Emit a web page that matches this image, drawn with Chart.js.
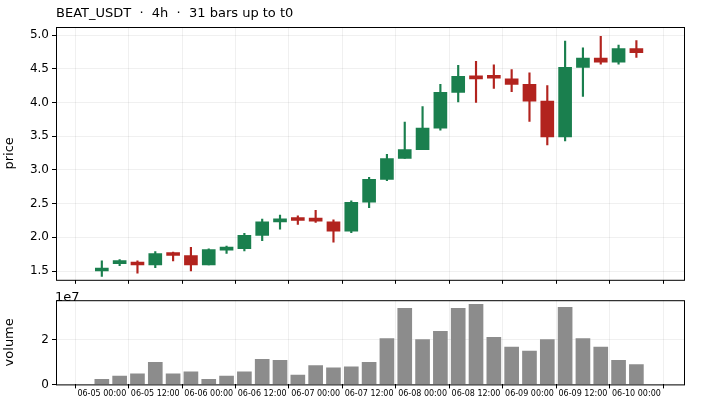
<!DOCTYPE html>
<html><head><meta charset="utf-8">
<script src="https://cdn.jsdelivr.net/npm/chart.js@4.4.1/dist/chart.umd.min.js"></script>
<style>body{margin:0;background:#fff;width:701px;height:400px;overflow:hidden;position:relative}
canvas{position:absolute;left:0}</style></head><body>
<canvas id="c1" width="701" height="290" style="top:0;width:701px;height:290px"></canvas><canvas id="c2" width="701" height="110" style="top:290px;width:701px;height:110px"></canvas>
<script>
const opens  =[1.50,1.61,1.62,1.59,1.76,1.73,1.59,1.81,1.83,2.03,2.23,2.28,2.25,2.23,2.09,2.52,2.86,3.17,3.30,3.62,4.15,4.39,4.37,4.35,4.27,4.02,3.49,4.52,4.66,4.60,4.80];
const closes =[1.52,1.62,1.59,1.76,1.73,1.59,1.82,1.83,2.03,2.23,2.27,2.25,2.24,2.09,2.52,2.86,3.17,3.30,3.62,4.15,4.39,4.35,4.36,4.27,4.02,3.49,4.52,4.66,4.60,4.80,4.74];
const highs  =[1.65,1.67,1.65,1.79,1.78,1.85,1.83,1.87,2.06,2.27,2.33,2.32,2.40,2.26,2.54,2.89,3.23,3.71,3.94,4.27,4.55,4.61,4.56,4.49,4.44,4.25,4.91,4.81,4.98,4.85,4.92];
const lows   =[1.42,1.58,1.47,1.55,1.65,1.50,1.59,1.76,1.80,1.95,2.12,2.19,2.22,1.93,2.07,2.44,2.84,3.17,3.30,3.59,4.01,4.00,4.21,4.16,3.72,3.37,3.43,4.09,4.57,4.57,4.67];
const volumes=[0.23,0.37,0.47,0.98,0.47,0.56,0.23,0.37,0.56,1.12,1.07,0.42,0.84,0.74,0.79,0.98,2.05,3.40,2.00,2.37,3.40,3.58,2.10,1.67,1.49,2.00,3.44,2.05,1.67,1.07,0.88].map(v=>v*1e7);
const tickLabels=['06-05 00:00','06-05 12:00','06-06 00:00','06-06 12:00','06-07 00:00','06-07 12:00','06-08 00:00','06-08 12:00','06-09 00:00','06-09 12:00','06-10 00:00'];
const UP='#1a7f4e', DN='#b2231e';
const idx=opens.map((_,i)=>i);
const col=idx.map(i=>closes[i]>=opens[i]?UP:DN);
const F='"DejaVu Sans", sans-serif';
const boxPlugin={id:'box',afterDraw(c){const a=c.chartArea,x=c.ctx;x.save();x.strokeStyle='#000';x.lineWidth=1;x.strokeRect(a.left+0.5,a.top+0.5,a.right-a.left,a.bottom-a.top);x.restore();}};
const xBase={type:'linear',min:-0.97,max:31.07,grid:{color:'rgba(0,0,0,0.06)',drawTicks:true,tickLength:4,tickColor:'#000'},border:{display:false}};
const yFit=s=>{s.width=56;};
new Chart(document.getElementById('c1'),{
 type:'bar',
 data:{datasets:[
  {data:idx.map(i=>({x:i,y:[lows[i],highs[i]]})),backgroundColor:col,barThickness:1.5,grouped:false,order:2},
  {data:idx.map(i=>({x:i,y:[opens[i],closes[i]===opens[i]?opens[i]+0.01:closes[i]]})),backgroundColor:col,barThickness:13,grouped:false,minBarLength:3,order:1}
 ]},
 options:{responsive:false,animation:false,devicePixelRatio:1,
  layout:{padding:{top:27,right:17,left:0,bottom:0}},
  plugins:{legend:{display:false},tooltip:{enabled:false}},
  scales:{
   x:{...xBase,afterBuildTicks(s){s.ticks=[0,3,6,9,12,15,18,21,24,27,30].map(v=>({value:v}));},ticks:{callback:()=>'' ,padding:0},afterFit(s){s.height=6;}},
   y:{min:1.37,max:5.12,afterFit:yFit,afterBuildTicks(s){s.ticks=[1.5,2,2.5,3,3.5,4,4.5,5].map(v=>({value:v}));},
      ticks:{color:'#000',font:{family:F,size:12},callback:v=>v.toFixed(1),padding:3},
      grid:{color:'rgba(0,0,0,0.06)',tickColor:'#000',tickLength:4},border:{display:false},
      title:{display:true,text:'price',color:'#000',font:{family:F,size:13},padding:2}}
  }},
 plugins:[boxPlugin,{id:'t',afterDraw(c){const x=c.ctx;x.save();x.fillStyle='#000';x.font='13px '+F;x.textBaseline='middle';x.fillText('BEAT_USDT  ·  4h  ·  31 bars up to t0',56,14);x.restore();}}]
});
new Chart(document.getElementById('c2'),{
 type:'bar',
 data:{datasets:[{data:idx.map(i=>({x:i,y:volumes[i]})),backgroundColor:'#8c8c8c',barThickness:14}]},
 options:{responsive:false,animation:false,devicePixelRatio:1,
  layout:{padding:{top:3,right:17,left:0,bottom:0}},
  plugins:{legend:{display:false},tooltip:{enabled:false}},
  scales:{
   x:{...xBase,afterBuildTicks(s){s.ticks=[0,3,6,9,12,15,18,21,24,27,30].map(v=>({value:v}));},
      ticks:{color:'#000',font:{family:F,size:8},maxRotation:0,autoSkip:false,padding:1,callback:(v,i)=>tickLabels[i]}},
   y:{min:0,max:3.76e7,afterFit:yFit,afterBuildTicks(s){s.ticks=[0,2e7].map(v=>({value:v}));},
      ticks:{color:'#000',font:{family:F,size:12},callback:v=>String(Math.round(v/1e7)),padding:3},
      grid:{color:'rgba(0,0,0,0.06)',tickColor:'#000',tickLength:4},border:{display:false},
      title:{display:true,text:'volume',color:'#000',font:{family:F,size:13},padding:2}}
  }},
 plugins:[boxPlugin,{id:'e',afterDraw(c){const x=c.ctx;x.save();x.fillStyle='#000';x.font='13px '+F;x.textBaseline='bottom';x.fillText('1e7',55,c.chartArea.top+4);x.restore();}}]
});
</script></body></html>
